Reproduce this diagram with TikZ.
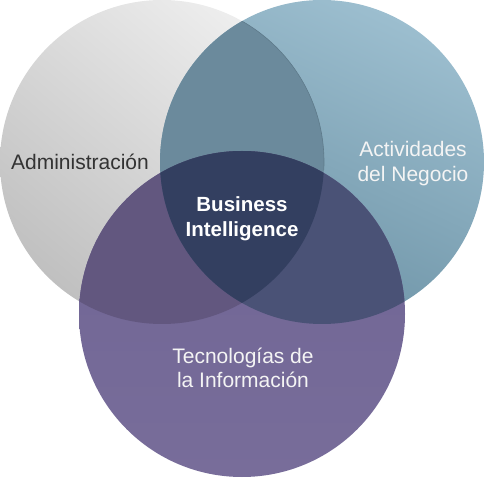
\documentclass[tikz,border=0pt]{standalone}
\usepackage{fontspec}
\setmainfont{Liberation Sans}
\definecolor{grayA}{HTML}{EEEEEE}
\definecolor{grayB}{HTML}{C0C0C0}
\definecolor{blueA}{HTML}{9CBECF}
\definecolor{blueB}{HTML}{6B91A4}
\definecolor{purpA}{HTML}{6F6494}
\definecolor{purpB}{HTML}{786D9A}
\definecolor{gbCol}{HTML}{6B8A9C}
\definecolor{gpCol}{HTML}{62577F}
\definecolor{bpCol}{HTML}{4A5276}
\definecolor{allCol}{HTML}{333F60}
\definecolor{rimCol}{HTML}{5E7A8A}
\definecolor{txtDark}{HTML}{333333}
\definecolor{txtLight}{HTML}{F4F4F4}
\tikzset{
  lbl/.style={inner sep=0pt, align=center, font=\fontsize{21}{24.5}\selectfont},
  bold lbl/.style={lbl, font=\fontsize{20.5}{25}\selectfont\bfseries}
}
\begin{document}
\begin{tikzpicture}[x=1pt,y=-1pt]
\useasboundingbox (0,0) rectangle (485,478);
\def\R{162}
\coordinate (cg) at (162,162);
\coordinate (cb) at (322,162);
\coordinate (cp) at (242,314);
% base circles
\shade[top color=grayA, bottom color=grayB, shading angle=-40] (cg) circle[radius=\R];
\shade[top color=blueA, bottom color=blueB, shading angle=-25] (cb) circle[radius=\R];
\shade[top color=purpA, bottom color=purpB] (cp) circle[radius=163];
% pairwise overlaps
\begin{scope}
  \clip (cg) circle[radius=\R];
  \fill[gbCol] (cb) circle[radius=\R];
\end{scope}
\begin{scope}
  \clip (cg) circle[radius=\R];
  \fill[gpCol] (cp) circle[radius=163];
\end{scope}
\begin{scope}
  \clip (cb) circle[radius=\R];
  \fill[bpCol] (cp) circle[radius=163];
\end{scope}
% triple overlap
\begin{scope}
  \clip (cg) circle[radius=\R];
  \clip (cb) circle[radius=\R];
  \fill[allCol] (cp) circle[radius=163];
\end{scope}
% faint rim of the gray circle inside the blue one
\begin{scope}
  \clip (cb) circle[radius=\R];
  \clip (0,0) rectangle (485,170);
  \draw[rimCol, line width=0.6pt] (cg) circle[radius=\R];
\end{scope}
% labels
\node[lbl, text=txtDark, anchor=base] (adm) at (80,170) {Administración};
\node[lbl, text=txtLight] (act) at (413,163.5) {Actividades\\del Negocio};
\node[bold lbl, text=white] (bi) at (242,219) {Business\\Intelligence};
\node[lbl, text=txtLight] (tec) at (243,368) {Tecnologías de\\la Información};
\end{tikzpicture}
\end{document}
